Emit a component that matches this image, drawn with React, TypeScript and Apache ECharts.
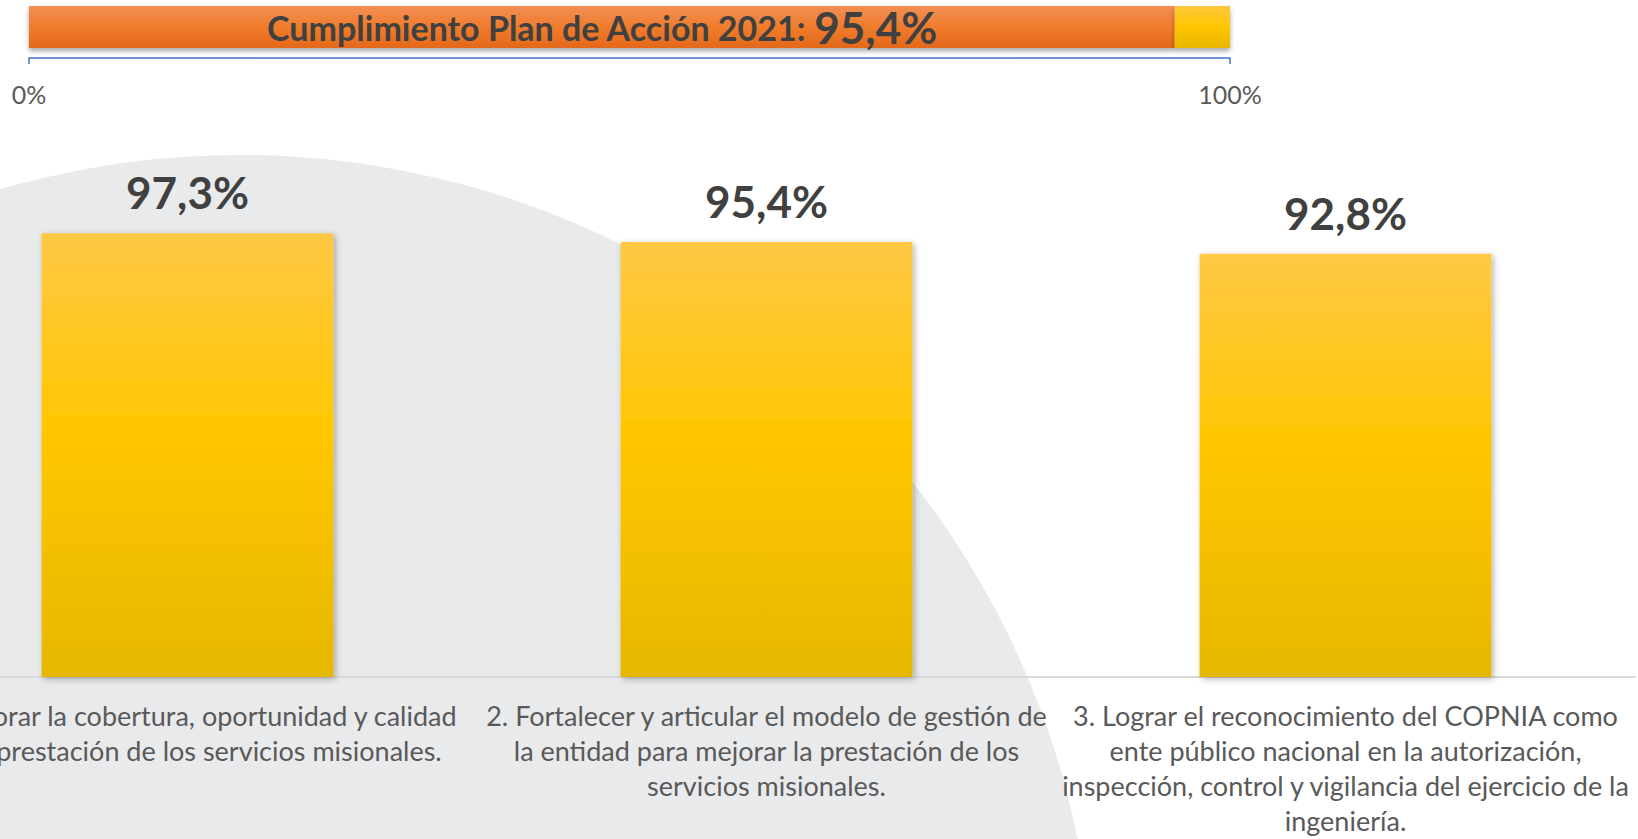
import React, { useEffect, useRef } from "react";
import * as echarts from "echarts";

const categories = [
  "1. Mejorar la cobertura, oportunidad y calidad\nde la prestación de los servicios misionales.",
  "2. Fortalecer y articular el modelo de gestión de\nla entidad para mejorar la prestación de los\nservicios misionales.",
  "3. Lograr el reconocimiento del COPNIA como\nente público nacional en la autorización,\ninspección, control y vigilancia del ejercicio de la\ningeniería.",
];
const values = [97.3, 95.4, 92.8];
const overallTitle = "Cumplimiento Plan de Acción 2021: ";
const overallValue = 95.4;
const overallMax = 100;
const overallCategory = ["Plan 2021"];

const fmt = (v: number) => v.toFixed(1).replace(".", ",") + "%";

const SHIFT = 102; // chart canvas starts off-screen to the left

const barGradient = {
  type: "linear", x: 0, y: 0, x2: 0, y2: 1,
  colorStops: [
    { offset: 0, color: "#FFC845" },
    { offset: 0.45, color: "#FFC700" },
    { offset: 1, color: "#E6B700" },
  ],
};
const orangeGradient = {
  type: "linear", x: 0, y: 0, x2: 0, y2: 1,
  colorStops: [
    { offset: 0, color: "#F28F55" },
    { offset: 0.5, color: "#F07C2C" },
    { offset: 1, color: "#E3681A" },
  ],
};
const yellowGradient = {
  type: "linear", x: 0, y: 0, x2: 0, y2: 1,
  colorStops: [
    { offset: 0, color: "#FFC83F" },
    { offset: 0.5, color: "#FFC600" },
    { offset: 1, color: "#E8B600" },
  ],
};

export default function App() {
  const ref = useRef<HTMLDivElement>(null);
  useEffect(() => {
    document.body.style.margin = "0";
    document.body.style.overflow = "hidden";
    const chart = echarts.init(ref.current!, undefined, { renderer: "svg" });
    chart.setOption({
      animation: false,
      backgroundColor: "#FFFFFF",
      graphic: [
        {
          type: "circle",
          z: -10,
          silent: true,
          shape: { cx: 240 + SHIFT, cy: 1010, r: 855 },
          style: { fill: "#E9EAEC" },
        },
      ],
      grid: [
        { left: 0, width: 1737, top: 221, height: 456 },
        { left: 29 + SHIFT, width: 1201, top: 6, height: 42 },
      ],
      xAxis: [
        {
          gridIndex: 0,
          type: "category",
          data: categories,
          axisLine: { show: true, lineStyle: { color: "#D9D9D9", width: 2 } },
          axisTick: { show: false },
          axisLabel: {
            interval: 0,
            margin: 21,
            color: "#595959",
            fontFamily: "Lato",
            fontSize: 27,
            lineHeight: 35,
            align: "center",
          },
        },
        {
          gridIndex: 1,
          type: "value",
          min: 0,
          max: overallMax,
          interval: 100,
          offset: 10,
          splitLine: { show: false },
          axisLine: { show: true, lineStyle: { color: "#4472C4", width: 1.5 } },
          axisTick: { show: true, length: 6, lineStyle: { color: "#4472C4", width: 1.5 } },
          axisLabel: {
            margin: 23,
            formatter: "{value}%",
            color: "#595959",
            fontFamily: "Lato",
            fontSize: 25,
          },
        },
      ],
      yAxis: [
        { gridIndex: 0, type: "value", min: 0, max: 100, show: false },
        { gridIndex: 1, type: "category", data: overallCategory, show: false },
      ],
      series: [
        {
          type: "bar",
          xAxisIndex: 0,
          yAxisIndex: 0,
          data: values,
          barCategoryGap: "49.6%",
          itemStyle: {
            color: barGradient,
            shadowBlur: 6,
            shadowColor: "rgba(0,0,0,0.3)",
            shadowOffsetX: 2,
            shadowOffsetY: 2,
          },
          label: {
            show: true,
            position: "top",
            distance: 19,
            formatter: (p: any) => fmt(p.value),
            color: "#404040",
            fontFamily: "Lato",
            fontWeight: "bold",
            fontSize: 44,
            lineHeight: 44,
          },
        },
        {
          type: "bar",
          xAxisIndex: 1,
          yAxisIndex: 1,
          stack: "overall",
          barWidth: "100%",
          data: [overallValue],
          itemStyle: {
            color: orangeGradient,
            shadowBlur: 5,
            shadowColor: "rgba(0,0,0,0.35)",
            shadowOffsetY: 3,
          },
          label: {
            show: true,
            position: "inside",
            formatter: (p: any) => `{a|${overallTitle}}{b|${fmt(p.value)}}`,
            rich: {
              a: { fontFamily: "Lato", fontWeight: "bold", fontSize: 34, color: "#404040" },
              b: { fontFamily: "Lato", fontWeight: "bold", fontSize: 44, color: "#404040" },
            },
          },
        },
        {
          type: "bar",
          xAxisIndex: 1,
          yAxisIndex: 1,
          stack: "overall",
          barWidth: "100%",
          data: [overallMax - overallValue],
          itemStyle: {
            color: yellowGradient,
            shadowBlur: 5,
            shadowColor: "rgba(0,0,0,0.35)",
            shadowOffsetY: 3,
          },
        },
      ],
    });
    return () => chart.dispose();
  }, []);
  return (
    <div
      ref={ref}
      style={{ position: "absolute", left: -SHIFT, top: 0, width: 1638 + SHIFT, height: 839 }}
    />
  );
}
